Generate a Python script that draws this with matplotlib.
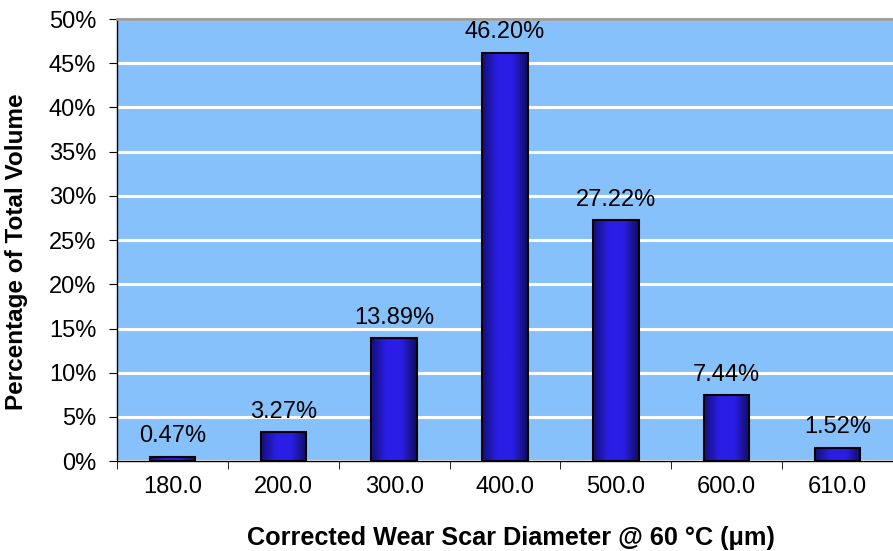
import numpy as np
import matplotlib.pyplot as plt
from matplotlib.colors import LinearSegmentedColormap

plt.rcParams['font.family'] = ['Liberation Sans', 'DejaVu Sans']

categories = ['180.0', '200.0', '300.0', '400.0', '500.0', '600.0', '610.0']
values = [0.47, 3.27, 13.89, 46.20, 27.22, 7.44, 1.52]
labels = ['0.47%', '3.27%', '13.89%', '46.20%', '27.22%', '7.44%', '1.52%']

fig = plt.figure(figsize=(8.93, 5.51), dpi=100)
ax = fig.add_axes([0.131, 0.163, 0.869, 0.8025])
ax.set_facecolor('#87c1fc')

x = np.arange(len(categories))
width = 0.41
ax.set_xlim(-0.5, len(categories) - 0.5)
ax.set_ylim(0, 50)

grad = LinearSegmentedColormap.from_list('bar', ['#15107a', '#2a1ee6', '#2a1ee6', '#120d60'])
g = np.linspace(0, 1, 64).reshape(1, -1)

bars = ax.bar(x, values, width, facecolor='none', edgecolor='black', linewidth=1.5, zorder=4)
for b in bars:
    x0, y0 = b.get_x(), b.get_y()
    ax.imshow(g, cmap=grad, aspect='auto', extent=[x0, x0 + b.get_width(), y0, y0 + b.get_height()],
              zorder=3, interpolation='bicubic')

for xi, v, lab in zip(x, values, labels):
    ax.text(xi, v + 1.1, lab, ha='center', va='bottom', fontsize=17)

ax.set_yticks(np.arange(0, 51, 5))
ax.set_yticklabels([f'{t}%' for t in range(0, 51, 5)], fontsize=17)
ax.yaxis.grid(True, color='white', linewidth=2.2)
ax.set_axisbelow(True)

ax.set_xticks(x)
ax.set_xticklabels(categories, fontsize=17)
ax.set_xticks(np.arange(-0.5, len(categories), 1), minor=True)
ax.tick_params(axis='x', which='major', length=0, pad=11)
ax.tick_params(axis='x', which='minor', length=6, direction='out')
ax.tick_params(axis='y', length=6, direction='out', pad=9)

for s in ['left', 'bottom']:
    ax.spines[s].set_color('black')
    ax.spines[s].set_linewidth(1.0)
ax.spines['top'].set_color('#999999')
ax.spines['top'].set_linewidth(2)
ax.spines['right'].set_visible(False)

ax.set_xlabel('Corrected Wear Scar Diameter @ 60 °C (μm)', fontsize=18.2, fontweight='bold')
ax.set_ylabel('Percentage of Total Volume', fontsize=17.5, fontweight='bold')
ax.xaxis.set_label_coords(0.5077, -0.147)
ax.yaxis.set_label_coords(-0.1147, 0.473)

fig.savefig('out.png', dpi=100)
